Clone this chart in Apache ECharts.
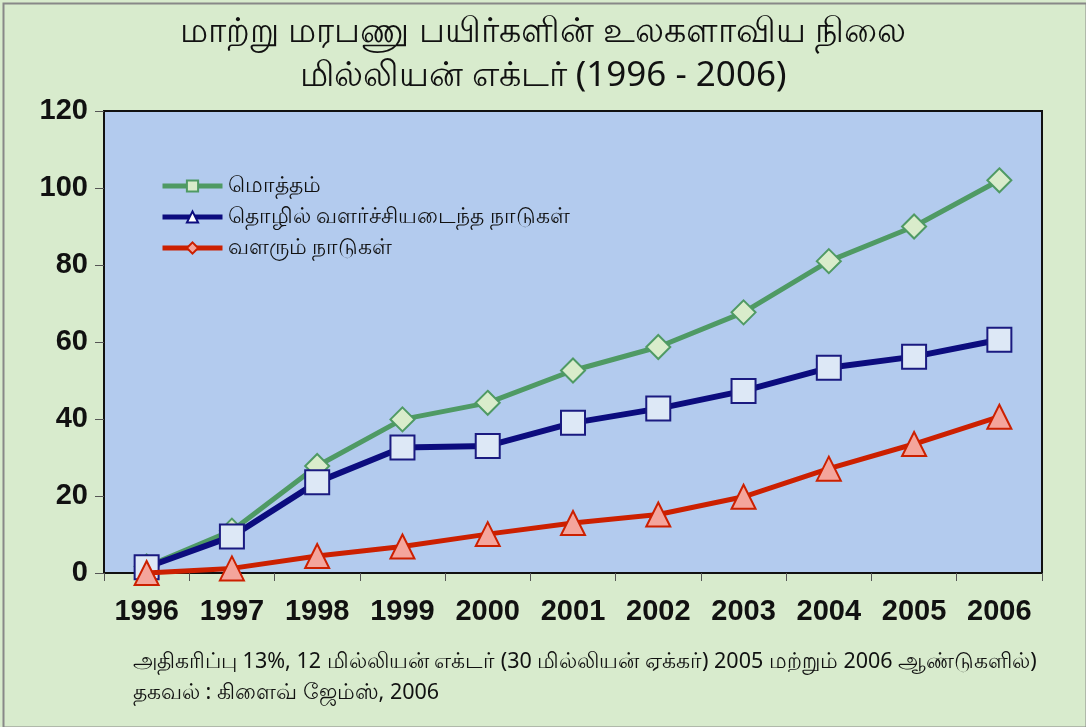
<!DOCTYPE html>
<html><head><meta charset="utf-8">
<script src="https://cdn.jsdelivr.net/npm/echarts@6/dist/echarts.min.js"></script>
<style>html,body{margin:0;padding:0;background:#d8ebcd;}#c{width:1086px;height:727px;}</style>
</head><body><div id="c"></div>
<script>
const categories = ['1996','1997','1998','1999','2000','2001','2002','2003','2004','2005','2006'];
const total = [1.7, 11.0, 27.8, 39.9, 44.2, 52.6, 58.7, 67.7, 81.0, 90.0, 102.0];
const industrial = [1.5, 9.5, 23.6, 32.6, 33.0, 39.0, 42.7, 47.3, 53.3, 56.2, 60.6];
const developing = [0.0, 1.2, 4.4, 6.9, 10.1, 13.0, 15.2, 19.8, 27.1, 33.5, 40.6];
const seriesNames = ['மொத்தம்', 'தொழில் வளர்ச்சியடைந்த நாடுகள்', 'வளரும் நாடுகள்'];
const titleLines = ['மாற்று மரபணு பயிர்களின் உலகளாவிய நிலை', 'மில்லியன் எக்டர் (1996 - 2006)'];
const footLines = ['அதிகரிப்பு 13%, 12 மில்லியன் எக்டர் (30 மில்லியன் ஏக்கர்) 2005 மற்றும் 2006 ஆண்டுகளில்)', 'தகவல் : கிளைவ் ஜேம்ஸ், 2006'];

const chart = echarts.init(document.getElementById('c'), null, {renderer:'canvas'});
const green = '#4f9a64', blue = '#0c0c7e', red = '#cc2000';
function legendDummy(name, color, symbol, fill){
  return {name:name, type:'line', data:[], symbol:symbol, symbolSize:12,
    lineStyle:{color:color,width:5}, itemStyle:{color:fill,borderColor:color,borderWidth:1.5}};
}
const tFont = 'Noto Sans, sans-serif';
chart.setOption({
  animation:false,
  backgroundColor:'#d8ebcd',
  title:[
    {text:titleLines[0], left:'center', top:10, textStyle:{fontSize:35, fontWeight:'normal', color:'#111', fontFamily:tFont}},
    {text:titleLines[1], left:'center', top:54, textStyle:{fontSize:35, fontWeight:'normal', color:'#111', fontFamily:tFont}},
    {text:footLines[0], left:128, top:646, textStyle:{fontSize:21.5, fontWeight:'normal', color:'#111', fontFamily:tFont}},
    {text:footLines[1], left:128, top:677, textStyle:{fontSize:21.5, fontWeight:'normal', color:'#111', fontFamily:tFont}}
  ],
  legend:{
    data:seriesNames, orient:'vertical', left:160, top:175, padding:0, itemWidth:60, itemHeight:14, itemGap:9,
    lineStyle:{width:5},
    textStyle:{fontSize:22, color:'#111', fontFamily:tFont}, selectedMode:false
  },
  grid:{left:104, right:44, top:111, bottom:154, show:true, backgroundColor:'#b3cbee', borderColor:'#111', borderWidth:2},
  xAxis:{type:'category', data:categories, boundaryGap:true,
    axisLine:{lineStyle:{color:'#111',width:2}},
    axisTick:{show:true, length:8, lineStyle:{color:'#555'}},
    axisLabel:{fontSize:29, fontWeight:'bold', color:'#111', margin:24, fontFamily:'Liberation Sans, Arial, sans-serif'}},
  yAxis:{type:'value', min:0, max:120, interval:20,
    axisLine:{show:true, lineStyle:{color:'#111',width:2}},
    axisTick:{show:true, length:9, lineStyle:{color:'#555'}},
    splitLine:{show:false},
    axisLabel:{fontSize:29, fontWeight:'bold', color:'#111', margin:16, fontFamily:'Liberation Sans, Arial, sans-serif'}},
  series:[
    legendDummy(seriesNames[0], green, 'rect', '#d9eccb'),
    legendDummy(seriesNames[1], blue, 'triangle', '#ffffff'),
    legendDummy(seriesNames[2], red, 'diamond', '#f4a59c'),
    {name:'total-data', type:'line', data:total, symbol:'diamond', symbolSize:24, z:3,
      lineStyle:{color:green,width:5}, itemStyle:{color:'#d9eccb',borderColor:green,borderWidth:2}},
    {name:'industrial-data', type:'line', data:industrial, symbol:'rect', symbolSize:24, z:4,
      lineStyle:{color:blue,width:6}, itemStyle:{color:'#dde8f6',borderColor:'#1a1a80',borderWidth:2}},
    {name:'developing-data', type:'line', data:developing, symbol:'triangle', symbolSize:24, z:5,
      lineStyle:{color:red,width:5}, itemStyle:{color:'#f4a59c',borderColor:red,borderWidth:2}}
  ],
  graphic:[{type:'rect', left:1, top:1, shape:{width:1083, height:724}, style:{fill:'none', stroke:'#888', lineWidth:2}, silent:true}]
});
</script></body></html>
